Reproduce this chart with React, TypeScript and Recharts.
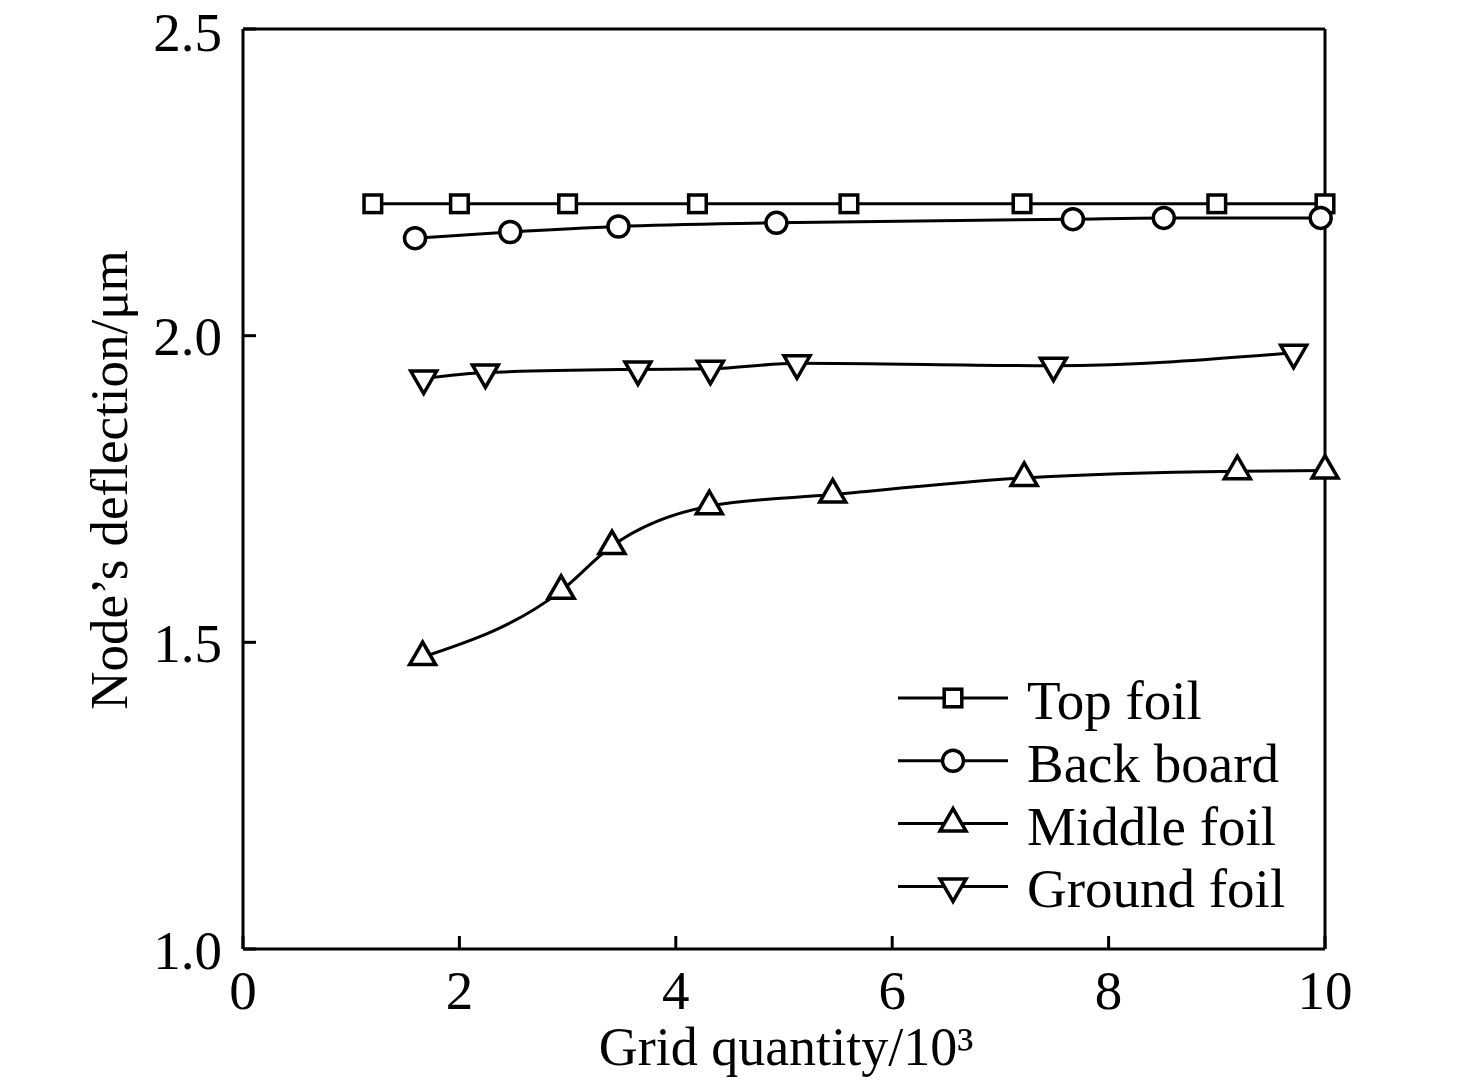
import React from "react"
import { LineChart, Line, XAxis, YAxis, Legend, ReferenceLine, Label } from "recharts"

const FONT = '"Liberation Serif", "Times New Roman", serif'

// values (x in 10^3 grid cells, y in μm)
const topFoilX = [1.2, 2.0, 3.0, 4.2, 5.6, 7.2, 9.0, 10.0]
const topFoilY = [2.215, 2.215, 2.215, 2.215, 2.215, 2.215, 2.215, 2.215]

const backBoardX = [1.59, 2.47, 3.47, 4.93, 7.67, 8.51, 9.96]
const backBoardY = [2.159, 2.169, 2.178, 2.184, 2.19, 2.192, 2.192]

const middleFoilX = [1.66, 2.94, 3.41, 4.31, 5.45, 7.22, 9.19, 10.0]
const middleFoilY = [1.476, 1.584, 1.657, 1.722, 1.741, 1.768, 1.779, 1.78]

const groundFoilX = [1.67, 2.24, 3.65, 4.32, 5.12, 7.49, 9.71]
const groundFoilY = [1.93, 1.94, 1.945, 1.946, 1.955, 1.951, 1.972]

const seriesNames = ["Top foil", "Back board", "Middle foil", "Ground foil"]
const seriesShapes = ["square", "circle", "up", "down"]

const xTicks = [0, 2, 4, 6, 8, 10]
const yTicks = [1.0, 1.5, 2.0, 2.5]

const toPoints = (xs: number[], ys: number[]) => xs.map((x, i) => ({ x, y: ys[i] }))

function Marker({ shape, cx, cy }: { shape: string; cx: number; cy: number }) {
  const st = { fill: "#fff", stroke: "#000", strokeWidth: 3.5 }
  if (shape === "square") return <rect x={cx - 8.8} y={cy - 8.8} width={17.6} height={17.6} {...st} />
  if (shape === "circle") return <circle cx={cx} cy={cy} r={10.5} {...st} />
  const w = 26
  const h = 22.5
  if (shape === "up")
    return <polygon points={`${cx},${cy - (2 * h) / 3} ${cx - w / 2},${cy + h / 3} ${cx + w / 2},${cy + h / 3}`} {...st} />
  return <polygon points={`${cx},${cy + (2 * h) / 3} ${cx - w / 2},${cy - h / 3} ${cx + w / 2},${cy - h / 3}`} {...st} />
}

const dotFor = (shape: string) => (p: any) => <Marker key={p.index} shape={shape} cx={p.cx} cy={p.cy} />

function LegendBox() {
  return (
    <svg width={430} height={260} style={{ display: "block" }}>
      {seriesNames.map((name, i) => {
        const y = 28 + i * 62.8
        return (
          <g key={name}>
            <line x1={8} x2={118} y1={y} y2={y} stroke="#000" strokeWidth={3} />
            <Marker shape={seriesShapes[i]} cx={63} cy={y} />
            <text x={137} y={y + 21} fontSize={55} fontFamily={FONT} fill="#000">
              {name}
            </text>
          </g>
        )
      })}
    </svg>
  )
}

const yLabel = (p: any) => {
  const vb = p.viewBox
  const cx = vb.x + vb.width - 116
  const cy = vb.y + vb.height / 2 - 9
  return (
    <text x={cx} y={cy} transform={`rotate(-90, ${cx}, ${cy})`} textAnchor="middle" fontSize={53} fontFamily={FONT} fill="#000">
      Node’s deflection/μm
    </text>
  )
}

const xLabel = (p: any) => {
  const vb = p.viewBox
  return (
    <text x={vb.x + vb.width / 2 + 2} y={vb.y + 116} textAnchor="middle" fontSize={54} fontFamily={FONT} fill="#000">
      Grid quantity/10³
    </text>
  )
}

export default function App() {
  const axisStroke = { stroke: "#000", strokeWidth: 3 }
  const tickStyle = { fill: "#000", fontSize: 55, fontFamily: FONT }
  const series = [
    toPoints(topFoilX, topFoilY),
    toPoints(backBoardX, backBoardY),
    toPoints(middleFoilX, middleFoilY),
    toPoints(groundFoilX, groundFoilY),
  ]
  return (
    <div style={{ position: "absolute", left: 0, top: 0, background: "#fff" }}>
      <LineChart width={1476} height={1086} margin={{ top: 29, right: 151, bottom: 77, left: 183 }}>
        <XAxis
          type="number"
          dataKey="x"
          domain={[0, 10]}
          ticks={xTicks}
          height={60}
          axisLine={axisStroke}
          tickLine={axisStroke}
          tickSize={-13}
          tickMargin={34}
          tick={tickStyle}
        >
          <Label content={xLabel} />
        </XAxis>
        <YAxis
          type="number"
          domain={[1, 2.5]}
          ticks={yTicks}
          width={60}
          axisLine={axisStroke}
          tickLine={axisStroke}
          tickSize={-13}
          tickMargin={34}
          tick={tickStyle}
          tickFormatter={(v: number) => v.toFixed(1)}
        >
          <Label content={yLabel} />
        </YAxis>
        <ReferenceLine y={2.5} stroke="#000" strokeWidth={3} />
        <ReferenceLine x={10} stroke="#000" strokeWidth={3} />
        <Legend
          layout="vertical"
          align="center"
          verticalAlign="middle"
          content={LegendBox}
          wrapperStyle={{ position: "absolute", left: 890, top: 670, width: 430, height: 260 }}
        />
        {series.map((pts, i) => (
          <Line
            key={seriesNames[i]}
            data={pts}
            dataKey="y"
            name={seriesNames[i]}
            type="monotone"
            stroke="#000"
            strokeWidth={3}
            dot={dotFor(seriesShapes[i])}
            activeDot={false}
            isAnimationActive={false}
          />
        ))}
      </LineChart>
    </div>
  )
}
